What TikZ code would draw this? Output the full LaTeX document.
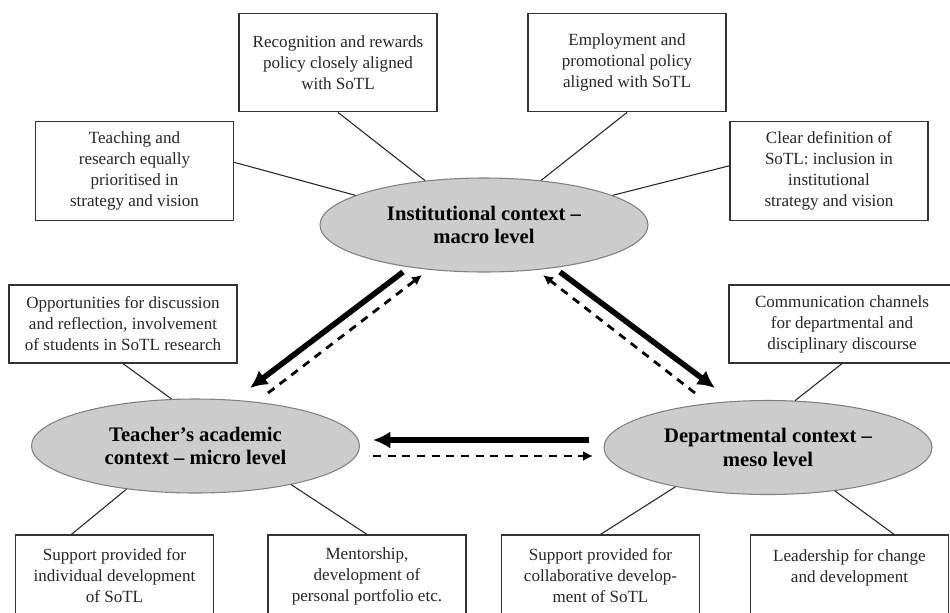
\documentclass[tikz,border=0pt]{standalone}
\usepackage{fontspec}
\setmainfont{Liberation Serif}
\usetikzlibrary{arrows.meta,shapes.geometric}

\begin{document}
\begin{tikzpicture}[x=0.75pt,y=-0.75pt,
	box/.style={draw=black!80,line width=0.9pt,align=center,inner sep=2pt,text=black!85,font=\fontsize{12.8}{15.75}\selectfont},
	level/.style={ellipse,draw=black!50,fill=black!20,line width=0.8pt,align=center,inner sep=0pt,minimum width=246pt,minimum height=70.5pt,font=\fontsize{15.5}{17.5}\selectfont\bfseries},
	link/.style={draw=black!85,line width=0.8pt},
	push/.style={line width=4.2pt,-{Latex[length=13pt,width=13pt]}},
	pull/.style={line width=2.1pt,dash pattern=on 6pt off 5pt,-{Latex[length=7.5pt,width=7.5pt]}}]
 	\useasboundingbox (0,0) rectangle (950,612);
 	\clip (0,0) rectangle (950,612);
 	% the three levels
 	\node[level] (inst) at (484,225) {Institutional context --\\macro level};
 	\node[level] (teacher) at (195.5,446) {Teacher’s academic\\context -- micro level};
 	\node[level] (dept) at (768,447.5) {Departmental context --\\meso level};
 	% institutional factors
 	\begin{scope}[every node/.append style={minimum width=148.5pt,minimum height=74pt}]
	 	\node[box] (rec) at (338,62.5) {Recognition and rewards\\policy closely aligned\\with SoTL};
	 	\node[box] (teach) at (134.5,171) {Teaching and\\research equally\\prioritised in\\strategy and vision};
	 	\node[box] (emp) at (627,62.5) {Employment and\\promotional policy\\aligned with SoTL};
	 	\node[box] (clear) at (829,171) {Clear definition of\\SoTL: inclusion in\\institutional\\strategy and vision};
 	\end{scope}
 	% micro and meso factors
 	\begin{scope}[every node/.append style={minimum width=171pt,minimum height=58.5pt}]
	 	\node[box] (opp) at (123,324) {Opportunities for discussion\\and reflection, involvement\\of students in SoTL research};
	 	\node[box,minimum width=169.5pt] (comm) at (842,324) {Communication channels\\for departmental and\\disciplinary discourse};
 	\end{scope}
 	\begin{scope}[every node/.append style={minimum width=148.5pt,minimum height=61.5pt}]
	 	\node[box] (sup1) at (114.5,576) {Support provided for\\individual development\\of SoTL};
	 	\node[box] (ment) at (367,576) {Mentorship,\\development of\\personal portfolio etc.};
	 	\node[box] (sup2) at (600.5,576) {Support provided for\\collaborative develop-\\ment of SoTL};
	 	\node[box] (lead) at (849.5,576) {Leadership for change\\and development\\ \mbox{}};
 	\end{scope}
 	% links
 	\draw[link] (rec.south) -- (inst.143);
 	\draw[link] (teach.5) -- (inst.167);
 	\draw[link] (emp.south) -- (inst.38);
 	\draw[link] (clear.177) -- (inst.13);
 	\draw[link] (opp.south) -- (teacher.117);
 	\draw[link] (teacher.212) -- (sup1.136);
 	\draw[link] (teacher.-22) -- (ment.north);
 	\draw[link] (comm.south) -- (dept.60);
 	\draw[link] (dept.203) -- (sup2.north);
 	\draw[link] (dept.-33) -- (lead.43);
 	% influence arrows
 	\coordinate (it1) at (403,272);
 	\coordinate (it2) at (250,388);
 	\coordinate (ti1) at (268,393);
 	\coordinate (ti2) at (422,275);
 	\coordinate (id1) at (560,272);
 	\coordinate (id2) at (715,388);
 	\coordinate (di1) at (695,393);
 	\coordinate (di2) at (543,275);
 	\coordinate (dt1) at (589,440);
 	\coordinate (dt2) at (373,440);
 	\coordinate (td1) at (373,456);
 	\coordinate (td2) at (593,456);
 	\draw[push] (it1) -- (it2);
 	\draw[pull] (ti1) -- (ti2);
 	\draw[push] (id1) -- (id2);
 	\draw[pull] (di1) -- (di2);
 	\draw[push] (dt1) -- (dt2);
 	\draw[pull] (td1) -- (td2);
\end{tikzpicture}
\end{document}
